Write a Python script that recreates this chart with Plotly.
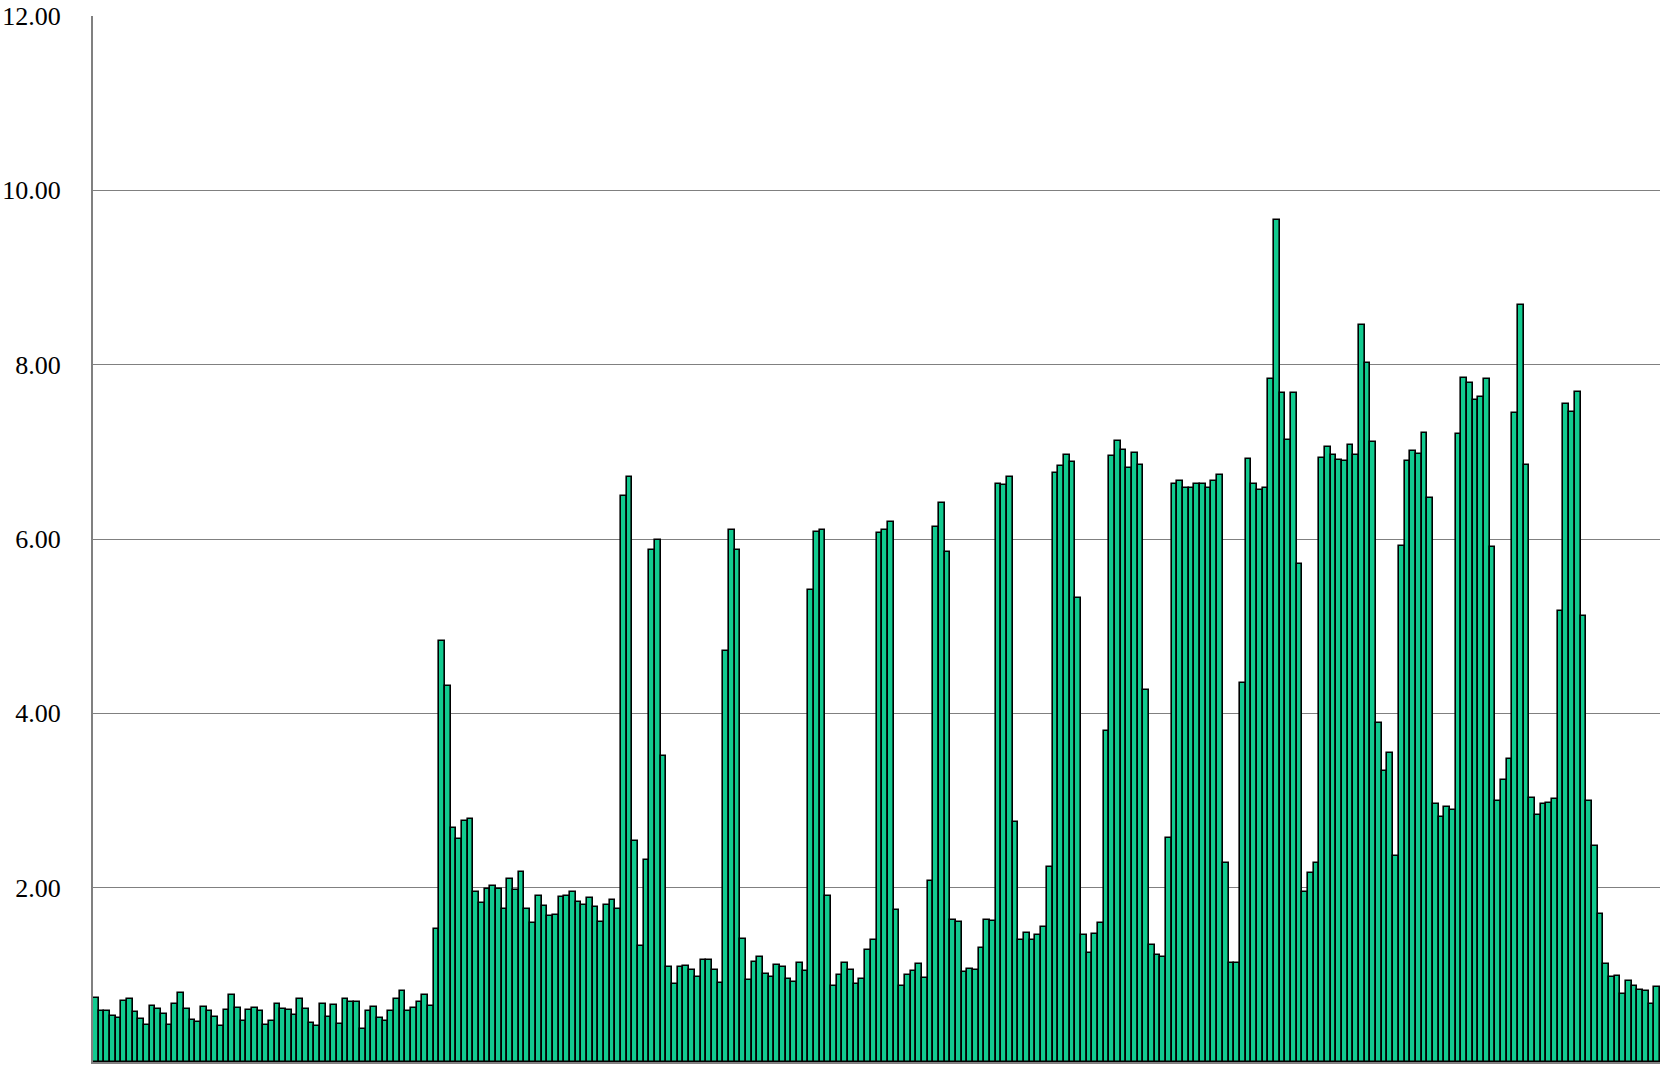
import plotly.graph_objects as go

# Bar heights, in left-to-right order, split into segments
seg_a = [0.73, 0.59, 0.59, 0.53, 0.51, 0.70, 0.72, 0.57, 0.49, 0.43,
         0.64, 0.61, 0.55, 0.43, 0.66, 0.79, 0.61, 0.48, 0.46, 0.63,
         0.59, 0.52, 0.41, 0.60, 0.77, 0.62, 0.47, 0.60, 0.62, 0.59,
         0.42, 0.47, 0.66, 0.61, 0.60, 0.54, 0.72, 0.61, 0.45, 0.41,
         0.66, 0.52, 0.65, 0.44, 0.72, 0.69, 0.69, 0.38, 0.59, 0.63,
         0.50, 0.47, 0.59, 0.72, 0.82, 0.59, 0.62, 0.69, 0.77, 0.64]
seg_b = [1.53, 4.83, 4.31, 2.68, 2.56, 2.77, 2.79, 1.95, 1.82, 1.98,
         2.02, 1.99, 1.76, 2.10, 1.97, 2.18, 1.76, 1.59, 1.91, 1.79,
         1.68, 1.69, 1.89, 1.91, 1.95, 1.84, 1.80, 1.88, 1.78, 1.61,
         1.80, 1.86, 1.76]
seg_c = [6.49, 6.71, 2.53, 1.33, 2.32, 5.87, 5.99, 3.51, 1.09, 0.89,
         1.09, 1.10, 1.06, 0.98, 1.17, 1.17, 1.06, 0.91, 4.71, 6.10,
         5.87, 1.41, 0.94, 1.15, 1.21, 1.01, 0.97, 1.11, 1.09, 0.95,
         0.92, 1.14, 1.04, 5.41]
seg_d = [6.08, 6.10, 1.91, 0.87, 1.00, 1.14, 1.06, 0.90, 0.95, 1.28,
         1.40, 6.07, 6.10, 6.20, 1.74, 0.87, 1.00, 1.04, 1.12, 0.96,
         2.08, 6.14, 6.41, 5.85, 1.63, 1.61, 1.03, 1.07, 1.06, 1.31,
         1.63, 1.62, 6.63]
seg_e = [6.62, 6.71, 2.75, 1.40, 1.48, 1.40, 1.46, 1.55, 2.24, 6.76,
         6.84, 6.96, 6.88, 5.32, 1.46, 1.25, 1.47, 1.60, 3.80, 6.95,
         7.13, 7.02, 6.81, 6.99, 6.85, 4.27, 1.34, 1.23, 1.21, 2.57]
seg_f = [6.63, 6.66, 6.58, 6.58, 6.63, 6.63, 6.58, 6.66, 6.74, 2.28,
         1.14, 1.14, 4.35, 6.92, 6.63, 6.56, 6.58, 7.83, 9.66, 7.67,
         7.14, 7.67, 5.71, 1.95, 2.17, 2.28, 6.93]
seg_g = [7.06, 6.96, 6.91, 6.89, 7.08, 6.96, 8.45, 8.02, 7.11, 3.89,
         3.34, 3.54, 2.36, 5.92, 6.90, 7.01, 6.98, 7.22, 6.47, 2.96,
         2.81, 2.92, 2.89, 7.20, 7.85, 7.79, 7.59, 7.63, 7.83]
seg_h = [5.91, 3.00, 3.24, 3.48, 7.44, 8.68, 6.85, 3.03, 2.83, 2.96,
         2.97, 3.02, 5.17, 7.55, 7.46, 7.69, 5.12, 3.00, 2.48, 1.70,
         1.13, 0.98, 0.99, 0.78, 0.93, 0.87, 0.83, 0.82, 0.67, 0.86]

values = seg_a + seg_b + seg_c + seg_d + seg_e + seg_f + seg_g + seg_h
categories = list(range(1, len(values) + 1))

y_ticks = [0, 2, 4, 6, 8, 10, 12]
y_tick_labels = ["0.00", "2.00", "4.00", "6.00", "8.00", "10.00", "12.00"]

fig = go.Figure(
    go.Bar(
        x=categories,
        y=values,
        marker=dict(color="#12CA8F", line=dict(color="#000000", width=1.6)),
    )
)

fig.update_layout(
    width=1663,
    height=1075,
    margin=dict(l=93, r=3, t=16, b=13),
    paper_bgcolor="white",
    plot_bgcolor="white",
    bargap=0.0,
    showlegend=False,
    font=dict(family="Liberation Serif", size=26, color="#000000"),
)

fig.update_xaxes(
    range=[0.5, len(values) + 0.5],
    showticklabels=False,
    showgrid=False,
    zeroline=False,
    showline=True,
    linecolor="#808080",
    linewidth=2,
    ticks="",
    automargin=False,
)

fig.update_yaxes(
    range=[0, 12],
    tickvals=y_ticks,
    ticktext=y_tick_labels,
    showgrid=True,
    gridcolor="#808080",
    gridwidth=1,
    zeroline=False,
    showline=True,
    linecolor="#808080",
    linewidth=2,
    ticks="",
    ticklabelstandoff=25,
    automargin=False,
    tickfont=dict(family="Liberation Serif", size=26, color="#000000"),
)

fig.write_html(
    "out.html",
    config={"displayModeBar": False},
    post_script="document.body.style.margin='0';document.body.style.overflow='hidden';",
)
